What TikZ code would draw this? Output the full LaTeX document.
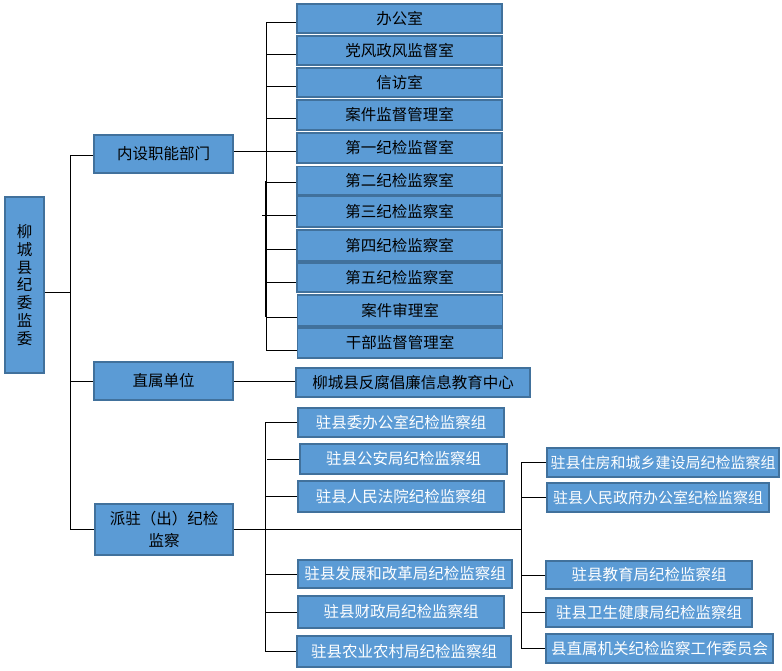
\documentclass[tikz,border=0pt]{standalone}
\usepackage{fontspec}
\setmainfont{Noto Sans CJK SC}
\newfontfamily\cnfont{Noto Sans CJK SC}
\definecolor{boxc}{HTML}{5B9BD5}
\definecolor{bordc}{HTML}{41719C}
\begin{document}
\begin{tikzpicture}[x=1pt,y=-1pt,
  box/.style={draw=bordc, fill=boxc, line width=1.2pt, inner sep=0pt, text=black,
    font=\cnfont\fontsize{15.5}{22}\selectfont, align=center},
  wbox/.style={box, text=white},
  conn/.style={line width=1pt, draw=black}]
\useasboundingbox (0,0) rectangle (782,671);
\fill[white] (0,0) rectangle (782,671);
% root
\node[box, minimum width=39pt, minimum height=176pt, font=\cnfont\fontsize{15.5}{17.8}\selectfont] (root) at (24.5,285) {柳\\城\\县\\纪\\委\\监\\委};
% second level
\node[box, minimum width=139pt, minimum height=38pt] (ns) at (163.5,154) {内设职能部门};
\node[box, minimum width=139pt, minimum height=38pt] (zs) at (163.5,381) {直属单位};
\node[box, minimum width=138pt, minimum height=51pt] (pz) at (164,529.5) {派驻（出）纪检\\监察};
% departments
\node[box, minimum width=205pt, minimum height=29pt] (d1) at (399.5,18.5) {办公室};
\node[box, minimum width=205pt, minimum height=29pt] (d2) at (399.5,50.5) {党风政风监督室};
\node[box, minimum width=205pt, minimum height=29pt] (d3) at (399.5,82.5) {信访室};
\node[box, minimum width=205pt, minimum height=30pt] (d4) at (399.5,115) {案件监督管理室};
\node[box, minimum width=205pt, minimum height=30pt] (d5) at (399.5,148) {第一纪检监督室};
\node[box, minimum width=205pt, minimum height=28pt] (d6) at (399.5,180.5) {第二纪检监察室};
\node[box, minimum width=205pt, minimum height=31pt] (d7) at (399.5,211.5) {第三纪检监察室};
\node[box, minimum width=205pt, minimum height=31pt] (d8) at (399.5,245.5) {第四纪检监察室};
\node[box, minimum width=205pt, minimum height=29pt] (d9) at (399.5,277.5) {第五纪检监察室};
\node[box, minimum width=205pt, minimum height=31pt] (d10) at (400,310.5) {案件审理室};
\node[box, minimum width=205pt, minimum height=30pt] (d11) at (400,343) {干部监督管理室};
% direct unit
\node[box, minimum width=234pt, minimum height=29pt] (zc) at (413,382.5) {柳城县反腐倡廉信息教育中心};
% dispatched groups, left column
\node[wbox, minimum width=206pt, minimum height=29pt] (b1) at (401,422.5) {驻县委办公室纪检监察组};
\node[wbox, minimum width=207pt, minimum height=30pt] (b2) at (403.5,459) {驻县公安局纪检监察组};
\node[wbox, minimum width=206pt, minimum height=31pt] (b3) at (401,496.5) {驻县人民法院纪检监察组};
\node[wbox, minimum width=214pt, minimum height=28pt] (b4) at (405,574) {驻县发展和改革局纪检监察组};
\node[wbox, minimum width=206pt, minimum height=32pt] (b5) at (401,612) {驻县财政局纪检监察组};
\node[wbox, minimum width=214pt, minimum height=31pt] (b6) at (404,651.5) {驻县农业农村局纪检监察组};
% dispatched groups, right column
\node[wbox, minimum width=232pt, minimum height=29pt, font=\cnfont\fontsize{15}{18}\selectfont] (r1) at (663,462.5) {驻县住房和城乡建设局纪检监察组};
\node[wbox, minimum width=222pt, minimum height=29pt, font=\cnfont\fontsize{15}{18}\selectfont] (r2) at (658,497.5) {驻县人民政府办公室纪检监察组};
\node[wbox, minimum width=206pt, minimum height=28pt] (r3) at (649,575) {驻县教育局纪检监察组};
\node[wbox, minimum width=206pt, minimum height=29pt] (r4) at (649,612.5) {驻县卫生健康局纪检监察组};
\node[wbox, minimum width=227pt, minimum height=29pt] (r5) at (659.5,648.5) {县直属机关纪检监察工作委员会};
% trunk
\coordinate (tk) at (70,0);
\coordinate (rootp) at ([yshift=-7pt]root.east);
\coordinate (nsw) at ([yshift=-2pt]ns.west);
\draw[conn] (rootp) -- (tk |- rootp);
\draw[conn] (nsw) -| (tk |- pz.west) -- (pz.west);
\draw[conn] (zs.west) -- (tk |- zs.west);
% internal departments
\coordinate (bt) at (266,0);
\coordinate (bt2) at (265.2,0);
\coordinate (nse) at ([yshift=2pt]ns.east);
\draw[conn] (nse) -- (nse -| d5.west);
\foreach \n/\s in {d1/-4.5,d2/-4.5,d3/-4.5,d4/-4,d6/-2.5,d7/-4.5,d8/-4.5,d9/-4.5,d10/-6.5,d11/-7}
  \coordinate (\n p) at ([yshift=\s pt]\n.west);
\draw[conn] (d1p) -| (bt |- d11p) -- (d11p);
\coordinate (thk1) at ([yshift=-1pt]d6.west);
\coordinate (thk2) at ([yshift=-6pt]d10.west);
\draw[conn] (bt2 |- thk1) -- (bt2 |- thk2);
\foreach \n in {d2,d3,d4,d6,d8,d9,d10}
  \draw[conn] (\n p) -- (bt |- \n p);
\draw[conn] (d7p) -- ++(-34pt,0);
% direct unit
\draw[conn] (zs.east) -- (zs.east -| zc.west);
% dispatched
\coordinate (bl) at (265,0);
\coordinate (br) at (521.5,0);
\draw[conn] (pz.east) -- (br |- pz.east);
\draw[conn] (b1.west) -| (bl |- b6.west) -- (b6.west);
\draw[conn] (b2.west) -- ++(-32pt,0);
\foreach \n in {b3,b4,b5}
  \draw[conn] (\n.west) -- (bl |- \n.west);
\draw[conn] (r1.west) -| (br |- r5.west) -- (r5.west);
\foreach \n in {r2,r3,r4}
  \draw[conn] (\n.west) -- (br |- \n.west);
\end{tikzpicture}
\end{document}
